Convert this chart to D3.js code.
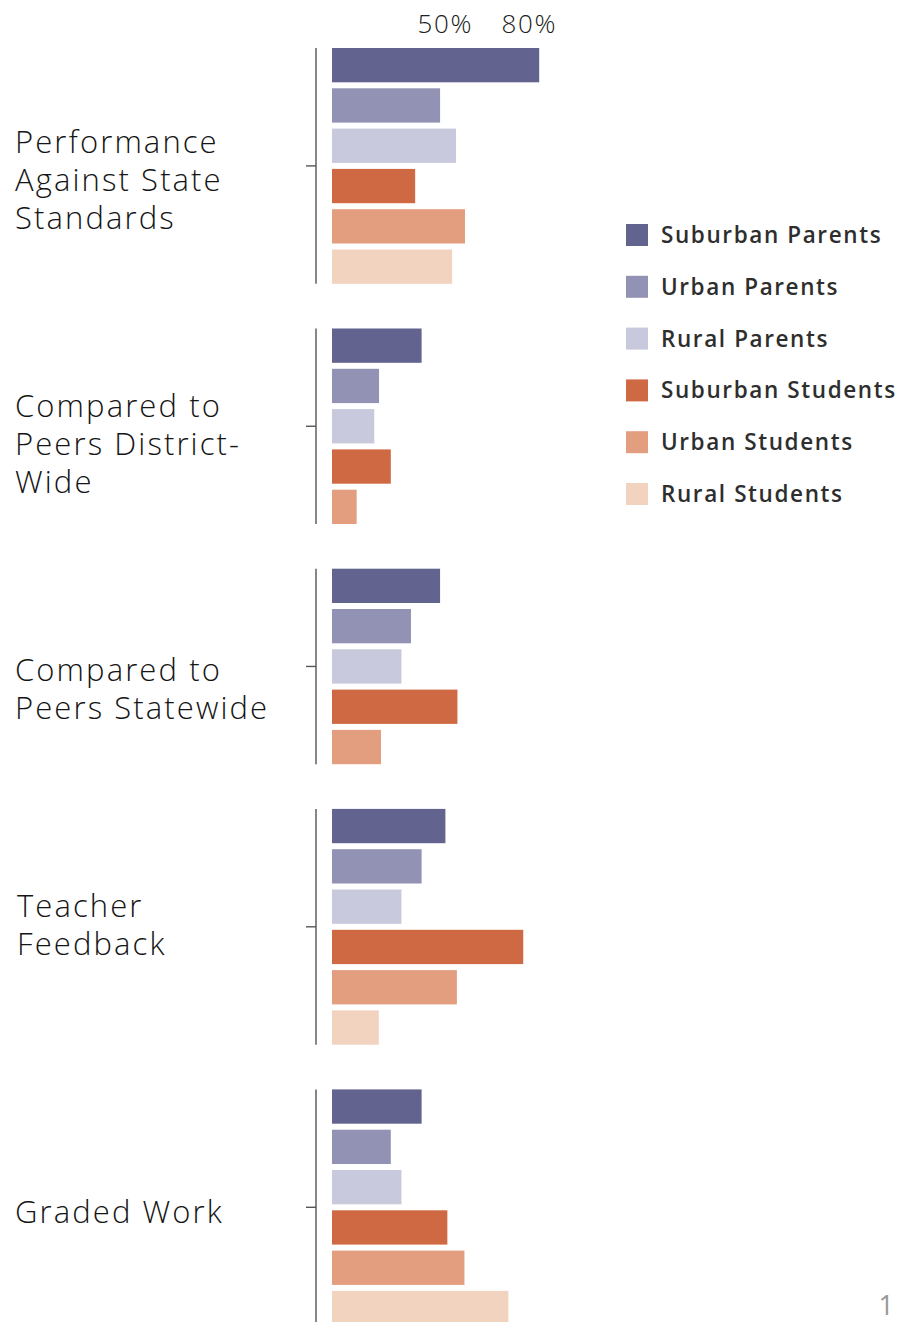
<!DOCTYPE html>
<html lang="en">

<head>
  <meta charset="UTF-8">
  <title>Grades by group</title>
  <script src="https://d3js.org/d3.v7.min.js"></script>
  <style>
    body {
      margin: 0;
      background: #fff;
    }

    text {
      font-family: 'Open Sans', Lato, sans-serif;
    }

    .cat-label {
      font-size: 31px;
      font-weight: 300;
      fill: #151515;
      letter-spacing: 2.1px;
    }

    .pct-label {
      font-size: 26px;
      font-weight: 300;
      fill: #222;
      letter-spacing: 1.6px;
    }

    .legend-label {
      font-size: 22.5px;
      font-weight: 600;
      fill: #2e2e2e;
      letter-spacing: 1.6px;
    }

    .page-num {
      font-size: 27px;
      font-weight: 400;
      fill: #999;
    }
  </style>
</head>

<body>
  <script>
    // label lines for each question group
    var categoryLines = [
      ["Performance", "Against State", "Standards"],
      ["Compared to", "Peers District-", "Wide"],
      ["Compared to", "Peers Statewide"],
      ["Teacher", "Feedback"],
      ["Graded Work"]
    ];

    var seriesNames = ["Suburban Parents", "Urban Parents", "Rural Parents",
      "Suburban Students", "Urban Students", "Rural Students"];

    // percent values, one per group (null = no bar)
    var suburbanParents = [74, 32, 38.6, 40.5, 32];
    var urbanParents = [38.6, 16.8, 28.2, 32, 21];
    var ruralParents = [44.3, 15.1, 24.8, 24.8, 24.8];
    var suburbanStudents = [29.7, 21, 44.8, 68.3, 41.2];
    var urbanStudents = [47.5, 8.8, 17.5, 44.6, 47.3];
    var ruralStudents = [42.9, null, null, 16.7, 63];

    var tickValues = [50, 80];
    var pageNumber = "1";

    var palette = ["#62638f", "#9292b4", "#c8c9dd", "#cf6943", "#e39e7f", "#f1d3c0"];

    var allSeries = [suburbanParents, urbanParents, ruralParents,
      suburbanStudents, urbanStudents, ruralStudents];

    // nudge of first label baseline vs group centre (layout only)
    var labelShift = [-13, -9, 14.5, -10, 16];

    var width = 898,
      height = 1322;

    var barStep = 40.3,
      barGap = 6,
      groupGap = 44.7,
      top0 = 48,
      axisX = 316,
      lineHeight = 38;

    var svg = d3.select("body").append("svg")
      .attr("width", width)
      .attr("height", height);

    var x = d3.scaleLinear()
      .domain([0, 100])
      .range([332, 612]);

    var color = d3.scaleOrdinal()
      .domain(seriesNames)
      .range(palette);

    // build groups
    var groups = [];
    var yTop = top0;
    categoryLines.forEach(function (lines, i) {
      var bars = [];
      seriesNames.forEach(function (name, s) {
        var v = allSeries[s][i];
        if (v != null) bars.push({ name: name, value: v });
      });
      var h = bars.length * barStep - barGap;
      groups.push({ lines: lines, bars: bars, top: yTop, height: h, idx: i });
      yTop += h + groupGap;
    });

    var g = svg.selectAll(".group")
      .data(groups)
      .enter().append("g")
      .attr("class", "group")
      .attr("transform", function (d) { return "translate(0," + d.top + ")"; });

    g.each(function (d) {
      var sel = d3.select(this);

      var y = d3.scaleBand()
        .domain(d.bars.map(function (b) { return b.name; }))
        .range([0, d.height])
        .paddingInner(barGap / barStep)
        .paddingOuter(0);

      sel.selectAll("rect")
        .data(d.bars)
        .enter().append("rect")
        .attr("x", x(0))
        .attr("y", function (b) { return y(b.name); })
        .attr("width", function (b) { return x(b.value) - x(0); })
        .attr("height", y.bandwidth())
        .attr("fill", function (b) { return color(b.name); });

      // axis line + centre tick
      sel.append("line")
        .attr("x1", axisX).attr("x2", axisX)
        .attr("y1", 0).attr("y2", d.height)
        .attr("stroke", "#555")
        .attr("stroke-width", 1.4);

      sel.append("line")
        .attr("x1", axisX - 10).attr("x2", axisX)
        .attr("y1", d.height / 2).attr("y2", d.height / 2)
        .attr("stroke", "#555")
        .attr("stroke-width", 1.4);

      var firstBase = d.height / 2 + labelShift[d.idx];
      sel.append("text")
        .attr("class", "cat-label")
        .selectAll("tspan")
        .data(d.lines)
        .enter().append("tspan")
        .attr("x", d.idx == 3 ? 17 : 15)
        .attr("y", function (l, j) { return firstBase + j * lineHeight; })
        .text(function (l) { return l; });
    });

    // percent labels at top
    svg.selectAll(".pct-label")
      .data(tickValues)
      .enter().append("text")
      .attr("class", "pct-label")
      .attr("text-anchor", "end")
      .attr("x", function (d) { return x(d) + 1; })
      .attr("y", 33)
      .text(function (d) { return d + "%"; });

    // legend
    var ly = d3.scalePoint()
      .domain(seriesNames)
      .range([224, 483]);

    var legend = svg.selectAll(".legend")
      .data(seriesNames)
      .enter().append("g")
      .attr("class", "legend")
      .attr("transform", function (d) { return "translate(626," + ly(d) + ")"; });

    legend.append("rect")
      .attr("width", 22)
      .attr("height", 22)
      .attr("fill", function (d) { return color(d); });

    legend.append("text")
      .attr("class", "legend-label")
      .attr("x", 35)
      .attr("y", 19)
      .text(function (d) { return d; });

    svg.append("text")
      .attr("class", "page-num")
      .attr("text-anchor", "end")
      .attr("x", 894)
      .attr("y", 1315)
      .text(pageNumber);
  </script>
</body>

</html>
